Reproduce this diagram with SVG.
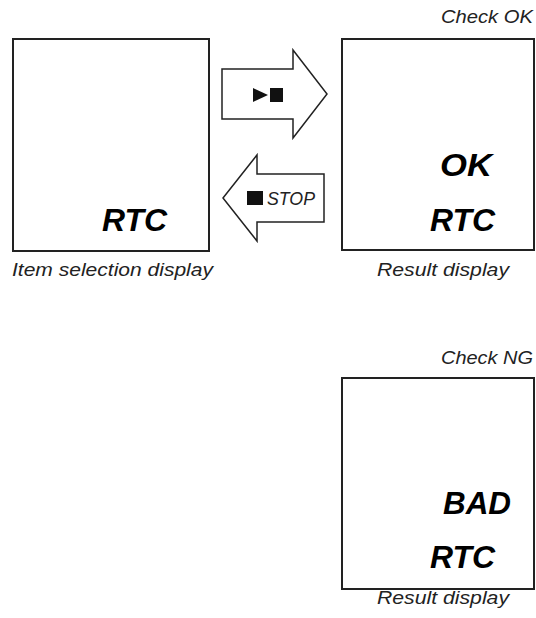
<svg xmlns="http://www.w3.org/2000/svg" width="536" height="618" viewBox="0 0 536 618">
<style>
.box{fill:#fff;stroke:#222;stroke-width:2}
.arrow{fill:#fff;stroke:#222;stroke-width:1.5;stroke-linejoin:miter}
.lbl{font-family:"Liberation Sans",Arial,sans-serif;font-style:italic;font-size:19px;fill:#222}
.big{font-family:"Liberation Sans",Arial,sans-serif;font-style:italic;font-weight:bold;font-size:31px;fill:#000}
.icon{fill:#111}
</style>
<rect width="536" height="618" fill="#fff"/>
<g id="item-selection">
<rect class="box" x="13" y="39" width="196" height="212"/>
<text class="big" x="102" y="231" textLength="65" lengthAdjust="spacingAndGlyphs">RTC</text>
<text class="lbl" x="12" y="276" textLength="201" lengthAdjust="spacingAndGlyphs">Item selection display</text>
</g>
<g id="result-ok">
<text class="lbl" x="441" y="23" textLength="92" lengthAdjust="spacingAndGlyphs">Check OK</text>
<rect class="box" x="342" y="39" width="192" height="211"/>
<text class="big" x="440" y="176" textLength="52" lengthAdjust="spacingAndGlyphs">OK</text>
<text class="big" x="430" y="231" textLength="65" lengthAdjust="spacingAndGlyphs">RTC</text>
<text class="lbl" x="377" y="276" textLength="132" lengthAdjust="spacingAndGlyphs">Result display</text>
</g>
<g id="result-ng">
<text class="lbl" x="441" y="364" textLength="92" lengthAdjust="spacingAndGlyphs">Check NG</text>
<rect class="box" x="342" y="378" width="192" height="211"/>
<text class="big" x="443" y="514" textLength="68" lengthAdjust="spacingAndGlyphs">BAD</text>
<text class="big" x="430" y="568" textLength="65" lengthAdjust="spacingAndGlyphs">RTC</text>
<text class="lbl" x="377" y="604" textLength="132" lengthAdjust="spacingAndGlyphs">Result display</text>
</g>
<g id="connectors">
<g id="arrow-start">
<path class="arrow" d="M222,69 L293,69 L293,50 L327,94 L293,138 L293,119 L222,119 Z"/>
<polygon class="icon" points="253,88 268,95 253,102"/>
<rect class="icon" x="270" y="88" width="13" height="14"/>
</g>
<g id="arrow-stop">
<path class="arrow" d="M223,198 L257,155 L257,174 L324,174 L324,222 L257,222 L257,241 Z"/>
<rect class="icon" x="247" y="191" width="16" height="14"/>
<text class="lbl" x="267" y="205" textLength="48" lengthAdjust="spacingAndGlyphs">STOP</text>
</g>
</g>
</svg>
